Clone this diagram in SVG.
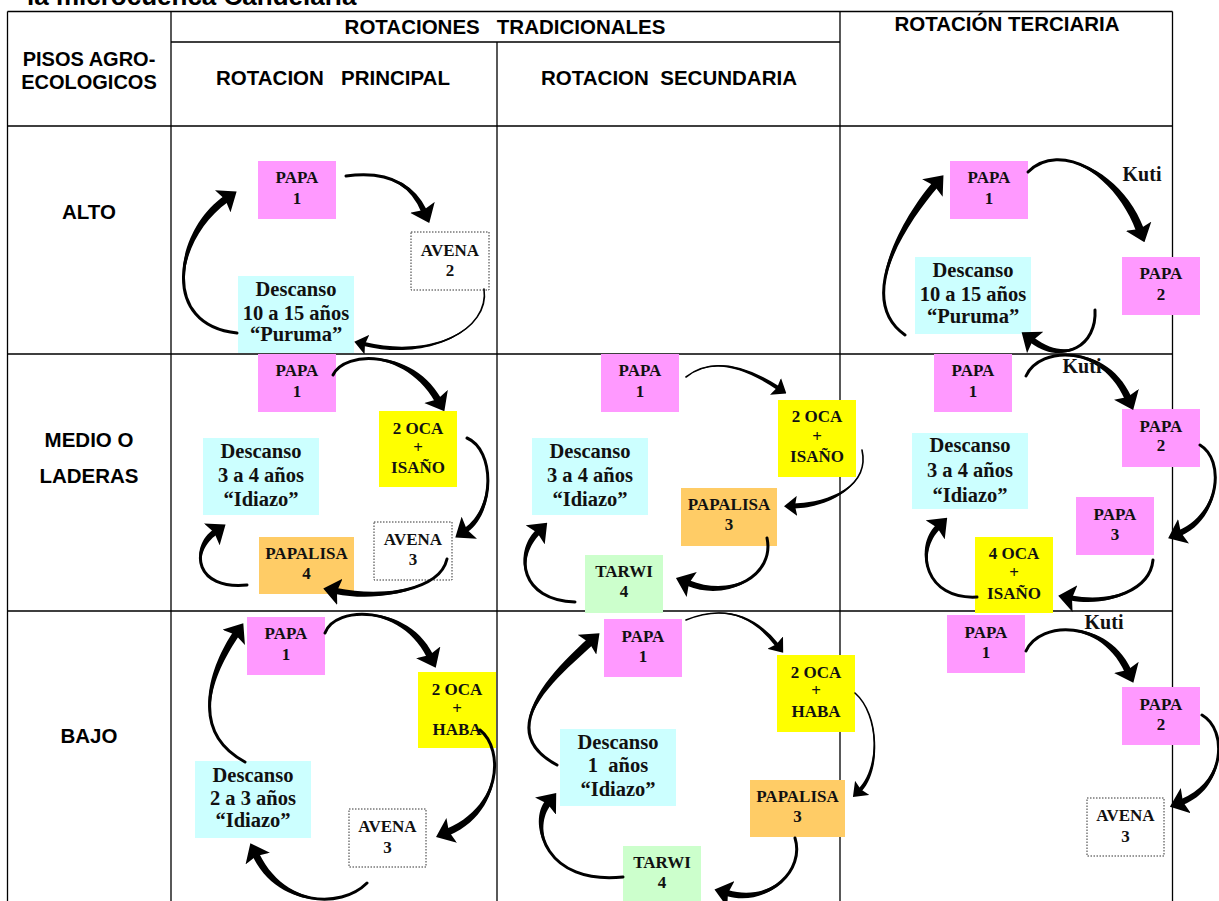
<svg xmlns="http://www.w3.org/2000/svg" width="1219" height="901" viewBox="0 0 1219 901">
<style>
.hdr{font-family:"Liberation Sans",Arial,sans-serif;font-weight:bold;font-size:20.5px;text-anchor:middle;fill:#000}
.hs{font-size:20px}
.lbl{font-family:"Liberation Serif","Times New Roman",serif;font-weight:bold;font-size:17px;text-anchor:middle;fill:#111}
.big{font-size:20.5px}
.kuti{font-family:"Liberation Serif","Times New Roman",serif;font-weight:bold;font-size:20px;text-anchor:middle;fill:#111}
.grid{stroke:#000;stroke-width:1.3;fill:none}
.pink{fill:#FF99FF}.cyan{fill:#CCFFFF}.yel{fill:#FFFF00}.org{fill:#FFCC66}.grn{fill:#CCFFCC}
.wht{fill:#fff;stroke:#333;stroke-width:1;stroke-dasharray:1.5 1.5}
.body{fill:#000}
.ln{fill:none;stroke:#000;stroke-width:3;stroke-linecap:round;marker-end:url(#ah)}
.lnt{fill:none;stroke:#000;stroke-width:1.6;stroke-linecap:round;marker-end:url(#ahm)}
</style>
<defs>
<marker id="ah" markerUnits="userSpaceOnUse" markerWidth="17" markerHeight="27" viewBox="0 0 17 27" refX="4" refY="13.5" orient="auto"><path d="M0,0 L17,13.5 L0,27 L3,13.5 Z" fill="#000"/></marker>
<marker id="ahm" markerUnits="userSpaceOnUse" markerWidth="13" markerHeight="20" viewBox="0 0 13 20" refX="3" refY="10" orient="auto"><path d="M0,0 L13,10 L0,20 L2,10 Z" fill="#000"/></marker>
</defs>
<rect width="1219" height="901" fill="#fff"/>
<text class="hdr" x="27" y="5" style="font-size:26px;text-anchor:start">la microcuenca Candelaria</text>
<g id="grid" class="grid">
<path d="M7.5,11.5 H1172.5 M7.5,11.5 V901 M171,11.5 V901 M497,42 V901 M840,11.5 V901 M1172.5,11.5 V901 M171,42 H840 M7.5,126 H1172.5 M7.5,354 H1172.5 M7.5,611 H1172.5"/>
</g>
<g id="headers">
<text class="hdr" x="505" y="34" xml:space="preserve">ROTACIONES   TRADICIONALES</text>
<text class="hdr" x="1007" y="31">ROTACIÓN TERCIARIA</text>
<text class="hdr hs" x="89" y="66">PISOS AGRO-</text>
<text class="hdr hs" x="89" y="89">ECOLOGICOS</text>
<text class="hdr" x="333" y="85" xml:space="preserve">ROTACION   PRINCIPAL</text>
<text class="hdr" x="669" y="85" xml:space="preserve">ROTACION  SECUNDARIA</text>
<text class="hdr" x="89" y="219">ALTO</text>
<text class="hdr" x="89" y="447">MEDIO O</text>
<text class="hdr" x="89" y="483">LADERAS</text>
<text class="hdr" x="89" y="743">BAJO</text>
</g>
<!-- ALTO principal -->
<g id="alto-p-papa1"><rect class="pink" x="258" y="161" width="78" height="58"/><text class="lbl" x="297" y="183">PAPA</text><text class="lbl" x="297" y="204">1</text></g>
<g id="alto-p-avena2"><rect class="wht" x="411" y="232" width="78" height="58"/><text class="lbl" x="450" y="256">AVENA</text><text class="lbl" x="450" y="276">2</text></g>
<g id="alto-p-desc"><rect class="cyan" x="238" y="276" width="116" height="77"/><text class="lbl big" x="296" y="296">Descanso</text><text class="lbl big" x="296" y="319.5">10 a 15 años</text><text class="lbl big" x="296" y="341">“Puruma”</text></g>
<!-- ALTO terciaria -->
<g id="alto-t-papa1"><rect class="pink" x="950" y="161" width="78" height="58"/><text class="lbl" x="989" y="183">PAPA</text><text class="lbl" x="989" y="204">1</text></g>
<g id="alto-t-papa2"><rect class="pink" x="1122" y="257" width="78" height="58"/><text class="lbl" x="1161" y="279">PAPA</text><text class="lbl" x="1161" y="300">2</text></g>
<g id="alto-t-desc"><rect class="cyan" x="915" y="257" width="116" height="77"/><text class="lbl big" x="973" y="277">Descanso</text><text class="lbl big" x="973" y="300.5">10 a 15 años</text><text class="lbl big" x="973" y="323">“Puruma”</text></g>
<!-- MEDIO principal -->
<g id="medio-p-papa1"><rect class="pink" x="258" y="354" width="78" height="58"/><text class="lbl" x="297" y="376">PAPA</text><text class="lbl" x="297" y="397">1</text></g>
<g id="medio-p-oca"><rect class="yel" x="379" y="411" width="78" height="76"/><text class="lbl" x="418" y="434">2 OCA</text><text class="lbl" x="418" y="453">+</text><text class="lbl" x="418" y="473">ISAÑO</text></g>
<g id="medio-p-desc"><rect class="cyan" x="203" y="438" width="116" height="77"/><text class="lbl big" x="261" y="457.5">Descanso</text><text class="lbl big" x="261" y="482">3 a 4 años</text><text class="lbl big" x="261" y="506">“Idiazo”</text></g>
<g id="medio-p-avena3"><rect class="wht" x="374" y="522" width="78" height="58"/><text class="lbl" x="413" y="545">AVENA</text><text class="lbl" x="413" y="565">3</text></g>
<g id="medio-p-papalisa4"><rect class="org" x="259" y="537" width="95" height="57"/><text class="lbl" x="306.5" y="558.5">PAPALISA</text><text class="lbl" x="306.5" y="579">4</text></g>
<!-- MEDIO secundaria -->
<g id="medio-s-papa1"><rect class="pink" x="601" y="354" width="78" height="58"/><text class="lbl" x="640" y="376">PAPA</text><text class="lbl" x="640" y="397">1</text></g>
<g id="medio-s-oca"><rect class="yel" x="778" y="400" width="78" height="77"/><text class="lbl" x="817" y="422">2 OCA</text><text class="lbl" x="817" y="442">+</text><text class="lbl" x="817" y="462">ISAÑO</text></g>
<g id="medio-s-desc"><rect class="cyan" x="532" y="438" width="116" height="77"/><text class="lbl big" x="590" y="457.5">Descanso</text><text class="lbl big" x="590" y="482">3 a 4 años</text><text class="lbl big" x="590" y="506">“Idiazo”</text></g>
<g id="medio-s-papalisa3"><rect class="org" x="681" y="488" width="96" height="58"/><text class="lbl" x="729" y="510">PAPALISA</text><text class="lbl" x="729" y="530">3</text></g>
<g id="medio-s-tarwi4"><rect class="grn" x="585" y="555" width="78" height="58"/><text class="lbl" x="624" y="577">TARWI</text><text class="lbl" x="624" y="597">4</text></g>
<!-- MEDIO terciaria -->
<g id="medio-t-papa1"><rect class="pink" x="934" y="354" width="78" height="58"/><text class="lbl" x="973" y="376">PAPA</text><text class="lbl" x="973" y="397">1</text></g>
<g id="medio-t-desc"><rect class="cyan" x="912" y="433" width="116" height="76"/><text class="lbl big" x="970" y="452">Descanso</text><text class="lbl big" x="970" y="477">3 a 4 años</text><text class="lbl big" x="970" y="501.5">“Idiazo”</text></g>
<g id="medio-t-papa2"><rect class="pink" x="1122" y="409" width="78" height="58"/><text class="lbl" x="1161" y="431.5">PAPA</text><text class="lbl" x="1161" y="451">2</text></g>
<g id="medio-t-papa3"><rect class="pink" x="1076" y="497" width="78" height="58"/><text class="lbl" x="1115" y="519.5">PAPA</text><text class="lbl" x="1115" y="539.5">3</text></g>
<g id="medio-t-oca4"><rect class="yel" x="975" y="537" width="78" height="76"/><text class="lbl" x="1014" y="558.5">4 OCA</text><text class="lbl" x="1014" y="578">+</text><text class="lbl" x="1014" y="599">ISAÑO</text></g>
<!-- BAJO principal -->
<g id="bajo-p-papa1"><rect class="pink" x="247" y="617" width="78" height="58"/><text class="lbl" x="286" y="639">PAPA</text><text class="lbl" x="286" y="659.5">1</text></g>
<g id="bajo-p-oca"><rect class="yel" x="418" y="672" width="78" height="76"/><text class="lbl" x="457" y="695">2 OCA</text><text class="lbl" x="457" y="714">+</text><text class="lbl" x="457" y="735">HABA</text></g>
<g id="bajo-p-desc"><rect class="cyan" x="195" y="761" width="116" height="77"/><text class="lbl big" x="253" y="782">Descanso</text><text class="lbl big" x="253" y="805">2 a 3 años</text><text class="lbl big" x="253" y="827">“Idiazo”</text></g>
<g id="bajo-p-avena3"><rect class="wht" x="349" y="809" width="77" height="58"/><text class="lbl" x="387.5" y="832">AVENA</text><text class="lbl" x="387.5" y="853">3</text></g>
<!-- BAJO secundaria -->
<g id="bajo-s-papa1"><rect class="pink" x="604" y="619" width="78" height="58"/><text class="lbl" x="643" y="641.5">PAPA</text><text class="lbl" x="643" y="661.5">1</text></g>
<g id="bajo-s-oca"><rect class="yel" x="777" y="655" width="78" height="77"/><text class="lbl" x="816" y="677.5">2 OCA</text><text class="lbl" x="816" y="696">+</text><text class="lbl" x="816" y="716.5">HABA</text></g>
<g id="bajo-s-desc"><rect class="cyan" x="560" y="729" width="116" height="77"/><text class="lbl big" x="618" y="748.5">Descanso</text><text class="lbl big" x="618" y="771.5" xml:space="preserve">1  años</text><text class="lbl big" x="618" y="795.5">“Idiazo”</text></g>
<g id="bajo-s-papalisa3"><rect class="org" x="750" y="780" width="95" height="57"/><text class="lbl" x="797.5" y="802">PAPALISA</text><text class="lbl" x="797.5" y="822">3</text></g>
<g id="bajo-s-tarwi4"><rect class="grn" x="623" y="846" width="78" height="58"/><text class="lbl" x="662" y="868">TARWI</text><text class="lbl" x="662" y="888">4</text></g>
<!-- BAJO terciaria -->
<g id="bajo-t-papa1"><rect class="pink" x="947" y="615" width="78" height="58"/><text class="lbl" x="986" y="637.5">PAPA</text><text class="lbl" x="986" y="657.5">1</text></g>
<g id="bajo-t-papa2"><rect class="pink" x="1122" y="687" width="78" height="58"/><text class="lbl" x="1161" y="710">PAPA</text><text class="lbl" x="1161" y="730">2</text></g>
<g id="bajo-t-avena3"><rect class="wht" x="1087" y="798" width="77" height="58"/><text class="lbl" x="1125.5" y="821">AVENA</text><text class="lbl" x="1125.5" y="841.5">3</text></g>
<g id="connectors">
<path class="body" d="M346,176 Q403.6,168.6 421.3,212.2 L426.7,209.8 Q406.4,167.4 346,176 Z"/><path class="ln" d="M346,176 Q405,168 424,211"/>
<path class="body" d="M484,289 C490,330 430.5,358.1 364.5,342.1 L363.5,345.9 C429.5,361.9 490,330 484,289 Z"/><path class="lnt" d="M484,289 C490,330 430,360 364,344"/>
<path class="body" d="M237,333 C160,325 177,237.9 228,201.9 L224,196.1 C173,232.1 160,325 237,333 Z"/><path class="ln" d="M237,333 C160,325 175,235 226,199"/>
<path class="body" d="M1028,172 C1060,140 1116.2,176.4 1136.2,231.4 L1143.8,228.6 C1123.8,173.6 1060,140 1028,172 Z"/><path class="ln" d="M1028,172 C1060,140 1120,175 1140,230"/>
<path class="body" d="M1095,310 C1097,345 1066.8,362.6 1033.8,337.6 L1030.2,342.4 C1063.2,367.4 1097,345 1095,310 Z"/><path class="ln" d="M1095,310 C1097,345 1065,365 1032,340"/>
<path class="body" d="M905,335 C855,300 907.7,222.3 937.7,187.3 L932.3,182.7 C902.3,217.7 855,300 905,335 Z"/><path class="ln" d="M905,335 C855,300 905,220 935,185"/>
<path class="body" d="M333,375 C345,350 406.9,351.7 434.9,401.7 L441.1,398.3 C413.1,348.3 345,350 333,375 Z"/><path class="ln" d="M333,375 C345,350 410,350 438,400"/>
<path class="body" d="M467,438 C495,450 493.6,507.9 464.6,527.9 L467.4,532.1 C496.4,512.1 495,450 467,438 Z"/><path class="ln" d="M467,438 C495,450 495,510 466,530"/>
<path class="body" d="M447,559 C440,590 380.6,597.1 336.6,588.1 L335.4,593.9 C379.4,602.9 440,590 447,559 Z"/><path class="ln" d="M447,559 C440,590 380,600 336,591"/>
<path class="body" d="M247,585 C195,590 191.8,552.4 216.8,534.4 L213.3,529.6 C188.3,547.6 195,590 247,585 Z"/><path class="ln" d="M247,585 C195,590 190,550 215,532"/>
<path class="body" d="M686,377 Q719.5,350.8 776.9,389.7 L779.1,386.3 Q720.6,349.2 686,377 Z"/><path class="lnt" d="M686,377 Q720,350 778,388"/>
<path class="body" d="M862,450 C870,485 829.9,502.5 793.9,503.5 L794.1,508.5 C830.1,507.5 870,485 862,450 Z"/><path class="lnt" d="M862,450 C870,485 830,505 794,506"/>
<path class="body" d="M767,538 C775,575 731.1,597.2 689.1,580.2 L686.9,585.8 C728.9,602.8 775,575 767,538 Z"/><path class="ln" d="M767,538 C775,575 730,600 688,583"/>
<path class="body" d="M575,602 C520,600 517.1,557.1 540.1,534.1 L535.9,529.9 C512.9,552.9 520,600 575,602 Z"/><path class="ln" d="M575,602 C520,600 515,555 538,532"/>
<path class="body" d="M1026,376 C1040,345 1101.8,346.4 1124.8,399.4 L1131.2,396.6 C1108.2,343.6 1040,345 1026,376 Z"/><path class="ln" d="M1026,376 C1040,345 1105,345 1128,398"/>
<path class="body" d="M1200,445 C1225,460 1218.8,512.3 1178.8,530.3 L1181.2,535.7 C1221.2,517.7 1225,460 1200,445 Z"/><path class="ln" d="M1200,445 C1225,460 1220,515 1180,533"/>
<path class="body" d="M1153,560 C1150,590 1110.4,602.5 1071.4,595.5 L1070.6,600.5 C1109.6,607.5 1150,590 1153,560 Z"/><path class="ln" d="M1153,560 C1150,590 1110,605 1071,598"/>
<path class="body" d="M977,597 C925,600 917.1,552.1 940.1,529.1 L935.9,524.9 C912.9,547.9 925,600 977,597 Z"/><path class="ln" d="M977,597 C925,600 915,550 938,527"/>
<path class="body" d="M325,633 C335,605 401.9,606.5 426.9,657.5 L433.1,654.5 C408.1,603.5 335,605 325,633 Z"/><path class="ln" d="M325,633 C335,605 405,605 430,656"/>
<path class="body" d="M480,730 C505,750 498.6,806.8 446.6,828.8 L449.4,835.2 C501.4,813.2 505,750 480,730 Z"/><path class="ln" d="M480,730 C505,750 500,810 448,832"/>
<path class="body" d="M367,883 C340,910 283.2,903.5 259.2,853.5 L252.8,856.5 C276.8,906.5 340,910 367,883 Z"/><path class="ln" d="M367,883 C340,910 280,905 256,855"/>
<path class="body" d="M245,762 C185,730 217.9,667 238.9,636 L233.1,632 C212.1,663 185,730 245,762 Z"/><path class="ln" d="M245,762 C185,730 215,665 236,634"/>
<path class="body" d="M686,620 Q739.2,598.6 775.4,646.2 L778.6,643.8 Q740.8,597.4 686,620 Z"/><path class="lnt" d="M686,620 Q740,598 777,645"/>
<path class="body" d="M855,693 C880,715 878.6,768.6 858.6,788.6 L861.4,791.4 C881.4,771.4 880,715 855,693 Z"/><path class="lnt" d="M855,693 C880,715 880,770 860,790"/>
<path class="body" d="M795,838 C805,870 770.8,902.1 727.8,890.1 L726.2,895.9 C769.2,907.9 805,870 795,838 Z"/><path class="ln" d="M795,838 C805,870 770,905 727,893"/>
<path class="body" d="M623,877 C545,885 532.7,827.2 550.7,805.2 L545.3,800.8 C527.3,822.8 545,885 623,877 Z"/><path class="ln" d="M623,877 C545,885 530,825 548,803"/>
<path class="body" d="M557,765 C490,730 562.7,672.9 592.7,644.9 L587.3,639.1 C557.3,667.1 490,730 557,765 Z"/><path class="ln" d="M557,765 C490,730 560,670 590,642"/>
<path class="body" d="M1026,651 C1040,620 1101.8,621.4 1124.8,672.4 L1131.2,669.6 C1108.2,618.6 1040,620 1026,651 Z"/><path class="ln" d="M1026,651 C1040,620 1105,620 1128,671"/>
<path class="body" d="M1202,715 C1228,730 1223.9,782.2 1180.9,799.2 L1183.1,804.8 C1226.1,787.8 1228,730 1202,715 Z"/><path class="ln" d="M1202,715 C1228,730 1225,785 1182,802"/>
</g>
<g id="kuti-labels">
<text class="kuti" x="1142" y="181">Kuti</text>
<text class="kuti" x="1082" y="373">Kuti</text>
<text class="kuti" x="1104" y="629">Kuti</text>
</g>
</svg>
